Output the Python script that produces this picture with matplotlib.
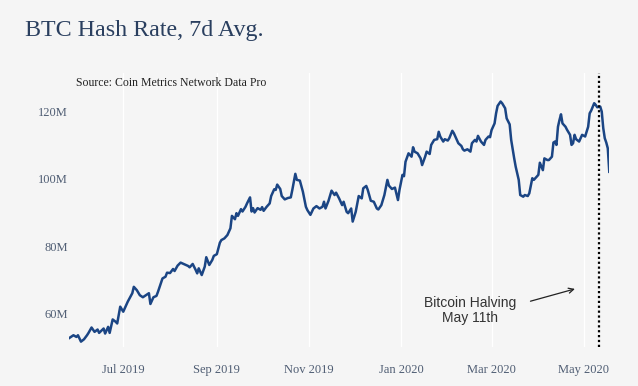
import pandas as pd
import matplotlib
matplotlib.use("Agg")
import matplotlib.pyplot as plt
import matplotlib.dates as mdates
from matplotlib.ticker import FuncFormatter

# 7 day average hash rate (millions)
dates = [
    "2019-05-26", "2019-05-29", "2019-05-31", "2019-06-01", "2019-06-03", "2019-06-05", "2019-06-07", "2019-06-08",
    "2019-06-10", "2019-06-12", "2019-06-14", "2019-06-15", "2019-06-18", "2019-06-19", "2019-06-21", "2019-06-22",
    "2019-06-24", "2019-06-26", "2019-06-27", "2019-06-29", "2019-07-01", "2019-07-02", "2019-07-04", "2019-07-07",
    "2019-07-08", "2019-07-10", "2019-07-12", "2019-07-14", "2019-07-16", "2019-07-18", "2019-07-19", "2019-07-21",
    "2019-07-23", "2019-07-24", "2019-07-26", "2019-07-27", "2019-07-29", "2019-07-30", "2019-08-01", "2019-08-03",
    "2019-08-04", "2019-08-06", "2019-08-08", "2019-08-10", "2019-08-13", "2019-08-14", "2019-08-16", "2019-08-18",
    "2019-08-19", "2019-08-20", "2019-08-22", "2019-08-24", "2019-08-25", "2019-08-27", "2019-08-29", "2019-08-30",
    "2019-09-01", "2019-09-03", "2019-09-04", "2019-09-06", "2019-09-08", "2019-09-09", "2019-09-10", "2019-09-11",
    "2019-09-13", "2019-09-14", "2019-09-15", "2019-09-17", "2019-09-18", "2019-09-20", "2019-09-21", "2019-09-23",
    "2019-09-24", "2019-09-25", "2019-09-26", "2019-09-28", "2019-09-30", "2019-10-01", "2019-10-02", "2019-10-04",
    "2019-10-06", "2019-10-07", "2019-10-09", "2019-10-10", "2019-10-11", "2019-10-13", "2019-10-14", "2019-10-16",
    "2019-10-18", "2019-10-20", "2019-10-21", "2019-10-23", "2019-10-24", "2019-10-26", "2019-10-28", "2019-10-30",
    "2019-10-31", "2019-11-02", "2019-11-04", "2019-11-06", "2019-11-08", "2019-11-10", "2019-11-11", "2019-11-12",
    "2019-11-14", "2019-11-16", "2019-11-18", "2019-11-19", "2019-11-21", "2019-11-23", "2019-11-24", "2019-11-26",
    "2019-11-27", "2019-11-29", "2019-11-30", "2019-12-02", "2019-12-04", "2019-12-06", "2019-12-07", "2019-12-09",
    "2019-12-10", "2019-12-12", "2019-12-14", "2019-12-16", "2019-12-17", "2019-12-19", "2019-12-21", "2019-12-23",
    "2019-12-24", "2019-12-26", "2019-12-28", "2019-12-30", "2019-12-31", "2020-01-02", "2020-01-03", "2020-01-04",
    "2020-01-06", "2020-01-08", "2020-01-09", "2020-01-10", "2020-01-12", "2020-01-14", "2020-01-15", "2020-01-17",
    "2020-01-18", "2020-01-20", "2020-01-21", "2020-01-23", "2020-01-25", "2020-01-26", "2020-01-27", "2020-01-29",
    "2020-01-30", "2020-02-01", "2020-02-02", "2020-02-04", "2020-02-05", "2020-02-07", "2020-02-08", "2020-02-10",
    "2020-02-11", "2020-02-12", "2020-02-14", "2020-02-16", "2020-02-17", "2020-02-19", "2020-02-20", "2020-02-21",
    "2020-02-23", "2020-02-25", "2020-02-26", "2020-02-28", "2020-02-29", "2020-03-01", "2020-03-03", "2020-03-04",
    "2020-03-05", "2020-03-07", "2020-03-08", "2020-03-10", "2020-03-11", "2020-03-13", "2020-03-14", "2020-03-16",
    "2020-03-17", "2020-03-19", "2020-03-20", "2020-03-22", "2020-03-23", "2020-03-25", "2020-03-26", "2020-03-28",
    "2020-03-29", "2020-03-31", "2020-04-01", "2020-04-02", "2020-04-04", "2020-04-05", "2020-04-07", "2020-04-08",
    "2020-04-10", "2020-04-11", "2020-04-12", "2020-04-13", "2020-04-14", "2020-04-15", "2020-04-16", "2020-04-17",
    "2020-04-19", "2020-04-20", "2020-04-22", "2020-04-23", "2020-04-24", "2020-04-25", "2020-04-26", "2020-04-28",
    "2020-04-29", "2020-04-30", "2020-05-02", "2020-05-04", "2020-05-05", "2020-05-06", "2020-05-08", "2020-05-09",
    "2020-05-10", "2020-05-12", "2020-05-13", "2020-05-14", "2020-05-15", "2020-05-16", "2020-05-17", "2020-05-18",
]
hash_rate = [
    52.6, 53.5, 53.0, 53.5, 51.6, 52.3, 53.5, 54.2,
    55.8, 54.5, 55.2, 54.2, 55.5, 54.0, 56.0, 54.2,
    58.2, 57.5, 57.0, 62.0, 60.5, 61.5, 63.5, 66.0,
    67.9, 66.9, 65.4, 64.8, 65.4, 66.0, 62.8, 64.8,
    65.2, 66.4, 69.1, 70.4, 70.9, 72.1, 72.0, 73.2,
    72.6, 74.2, 75.1, 74.7, 74.1, 73.7, 74.7, 72.9,
    71.9, 73.4, 71.4, 73.9, 76.7, 74.4, 75.9, 77.1,
    77.6, 81.0, 81.8, 82.3, 83.3, 84.3, 85.3, 89.0,
    88.0, 89.8, 89.0, 91.0, 90.3, 91.7, 92.7, 94.5,
    90.3, 91.3, 90.0, 91.3, 90.8, 91.6, 90.5, 91.7,
    92.7, 94.9, 96.9, 96.7, 98.3, 97.0, 94.9, 93.9,
    94.3, 94.5, 96.7, 101.5, 99.7, 99.5, 96.2, 91.7,
    90.7, 89.3, 91.2, 91.9, 91.2, 91.7, 93.2, 91.2,
    93.5, 96.5, 95.2, 95.9, 94.2, 92.2, 93.2, 90.2,
    89.8, 91.2, 87.3, 90.2, 94.9, 94.2, 97.2, 97.9,
    96.7, 93.5, 93.2, 91.2, 90.9, 92.2, 95.2, 99.7,
    98.0, 97.0, 97.4, 93.7, 96.7, 101.2, 100.8, 105.1,
    107.6, 106.6, 109.4, 108.1, 107.6, 106.1, 104.1, 106.6,
    108.1, 107.4, 110.1, 111.6, 111.8, 114.0, 112.6, 111.1,
    111.8, 111.4, 112.1, 114.3, 113.6, 111.6, 110.6, 109.8,
    108.8, 108.4, 108.8, 108.1, 110.6, 111.6, 111.1, 112.8,
    111.1, 110.1, 111.6, 112.6, 112.4, 114.5, 116.5, 119.5,
    121.7, 123.0, 122.5, 121.0, 118.0, 116.2, 111.6, 106.1,
    103.6, 99.7, 95.2, 94.7, 95.2, 94.9, 95.7, 100.2,
    99.7, 100.7, 101.2, 104.8, 102.6, 106.1, 105.6, 105.6,
    106.6, 110.8, 111.1, 110.1, 115.5, 117.5, 119.2, 116.5,
    115.5, 114.6, 113.1, 110.1, 110.6, 113.1, 111.8, 111.1,
    112.1, 113.1, 112.6, 115.5, 119.5, 120.3, 122.5, 122.0,
    121.3, 121.5, 120.0, 115.1, 112.1, 110.8, 109.1, 102.1,
]
y_ticks = [60, 80, 100, 120]
halving_date = "2020-05-11"
halving_label = "Bitcoin Halving\nMay 11th"

x = pd.to_datetime(dates)
bg = "#f5f5f5"
serif = ["Liberation Serif", "DejaVu Serif"]

fig = plt.figure(figsize=(6.38, 3.86), dpi=100, facecolor=bg)
ax = fig.add_axes([0.108, 0.101, 0.847, 0.71], facecolor=bg)

ax.plot(x, hash_rate, color="#1b4584", lw=1.8, solid_joinstyle="round", zorder=3)
ax.axvline(pd.Timestamp(halving_date), color="black", lw=1.6, ls=(0, (1, 1.2)), zorder=4)

ax.annotate("", xy=(pd.Timestamp("2020-04-27"), 67.5), xytext=(pd.Timestamp("2020-03-25"), 63.4),
            arrowprops=dict(arrowstyle="->", color="#222222", lw=0.9, mutation_scale=9))
ax.text(pd.Timestamp("2020-02-16"), 60.9, halving_label, ha="center", va="center",
        fontsize=10, color="#333333", family=["Liberation Sans", "DejaVu Sans"], linespacing=1.15)

ax.set_xlim(x[0], x[-1])
ax.set_ylim(50, 131.5)
ax.set_yticks(y_ticks)
ax.yaxis.set_major_formatter(FuncFormatter(lambda v, p: f"{v:.0f}M"))
ax.xaxis.set_major_locator(mdates.MonthLocator(bymonth=[1, 3, 5, 7, 9, 11]))
ax.xaxis.set_major_formatter(mdates.DateFormatter("%b %Y"))
ax.grid(axis="x", color="white", lw=1.0)
ax.grid(axis="y", visible=False)
for s in ax.spines.values():
    s.set_visible(False)
ax.tick_params(length=0, colors="#4f5d73", labelsize=9)
ax.tick_params(axis="y", pad=1)
ax.tick_params(axis="x", pad=12)
for lab in ax.get_xticklabels() + ax.get_yticklabels():
    lab.set_family(serif)

fig.text(0.039, 0.907, "BTC Hash Rate, 7d Avg.", fontsize=17.3, color="#2a3f5f",
         family=serif, va="baseline")
fig.text(0.119, 0.778, "Source: Coin Metrics Network Data Pro", fontsize=8.5,
         color="#222222", family=serif, va="baseline")

fig.savefig("out.png", dpi=100, facecolor=bg)
